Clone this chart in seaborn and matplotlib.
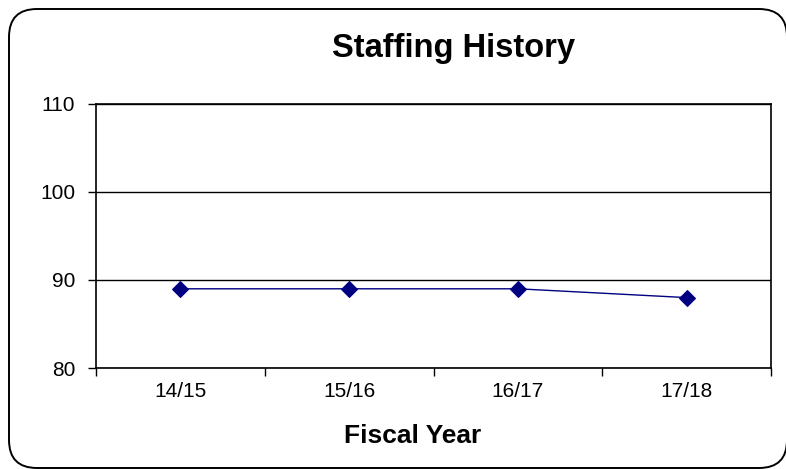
import matplotlib
matplotlib.use("Agg")
import matplotlib.pyplot as plt
from matplotlib.patches import FancyBboxPatch
import seaborn as sns
import pandas as pd

fiscal_years = ["14/15", "15/16", "16/17", "17/18"]
staff = [89, 89, 89, 88]
y_ticks = [80, 90, 100, 110]

sns.set_theme(style="white")
plt.rcParams["font.family"] = ["Liberation Sans", "DejaVu Sans"]
plt.rcParams["text.color"] = "black"
plt.rcParams["xtick.color"] = "black"
plt.rcParams["ytick.color"] = "black"

df = pd.DataFrame({"year": fiscal_years, "staff": staff})
df["pos"] = range(len(fiscal_years))

W, H = 786, 469
fig = plt.figure(figsize=(W / 100, H / 100), dpi=100)
fig.patch.set_facecolor("white")

# rounded frame around the whole chart
frame = FancyBboxPatch((9 / W, 1 / H), 778 / W, 459 / H,
                       boxstyle="round,pad=0,rounding_size=%f" % (28 / W),
                       transform=fig.transFigure, fill=False,
                       edgecolor="black", linewidth=1.4,
                       mutation_aspect=W / H)
fig.patches.append(frame)

ax = fig.add_axes([96 / W, 1 - 368 / H, 675 / W, 264 / H])
sns.lineplot(data=df, x="pos", y="staff", ax=ax, color="#000080",
             linewidth=1.0, marker="D", markersize=8,
             markeredgecolor="#000080", markerfacecolor="#000080")

ax.set_xlim(-0.5, len(fiscal_years) - 0.5)
ax.set_ylim(80, 110)
ax.set_yticks(y_ticks)
ax.set_yticklabels([str(v) for v in y_ticks], fontsize=15)
ax.yaxis.grid(True, color="black", linewidth=1.0)
ax.set_axisbelow(True)

ax.set_xticks(range(len(fiscal_years)))
ax.set_xticklabels(fiscal_years, fontsize=15)
ax.set_xticks([i - 0.5 for i in range(len(fiscal_years) + 1)], minor=True)
ax.tick_params(axis="x", which="major", length=0, pad=10)
ax.tick_params(axis="x", which="minor", length=6, width=1.0,
               direction="out", color="black", bottom=True)
ax.tick_params(axis="y", length=6, width=1.0, direction="out",
               color="black", left=True, pad=9)

for side in ["left", "right", "top", "bottom"]:
    ax.spines[side].set_visible(True)
    ax.spines[side].set_color("black")
    ax.spines[side].set_linewidth(1.2)

ax.set_xlabel("")
ax.set_ylabel("")

fig.text(454 / W, 1 - 48 / H, "Staffing History", ha="center",
         va="center", fontsize=23.5, fontweight="bold")
fig.text(413 / W, 1 - 436 / H, "Fiscal Year", ha="center",
         va="center", fontsize=19, fontweight="bold")

fig.savefig("out.png", dpi=100, facecolor="white")
